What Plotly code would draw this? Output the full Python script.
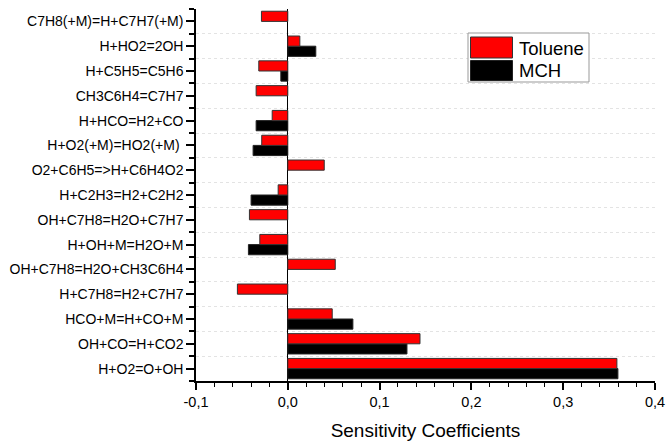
import plotly.graph_objects as go

# Reactions listed top to bottom as in the chart
reactions = [
    "C7H8(+M)=H+C7H7(+M)",
    "H+HO2=2OH",
    "H+C5H5=C5H6",
    "CH3C6H4=C7H7",
    "H+HCO=H2+CO",
    "H+O2(+M)=HO2(+M) ",
    "O2+C6H5=>H+C6H4O2",
    "H+C2H3=H2+C2H2",
    "OH+C7H8=H2O+C7H7",
    "H+OH+M=H2O+M",
    "OH+C7H8=H2O+CH3C6H4",
    "H+C7H8=H2+C7H7",
    "HCO+M=H+CO+M",
    "OH+CO=H+CO2",
    "H+O2=O+OH",
]
toluene = [-0.0287, 0.0131, -0.0316, -0.0345, -0.0170, -0.0284, 0.0397, -0.0105,
           -0.0418, -0.0305, 0.0517, -0.0549, 0.0484, 0.1440, 0.3585]
mch = [None, 0.0305, -0.0076, None, -0.0345, -0.0378, None, -0.0400,
       None, -0.0429, None, None, 0.0709, 0.1298, 0.3596]
x_ticks = [-0.1, 0.0, 0.1, 0.2, 0.3, 0.4]
x_ticktext = [f"{v:.1f}".replace(".", ",") for v in x_ticks]

n = len(reactions)
ypos = [n - 1 - i for i in range(n)]  # top item gets highest position

fig = go.Figure()
fig.add_trace(go.Bar(
    name="MCH", y=ypos, x=mch, orientation="h",
    marker=dict(color="#000000", line=dict(color="#222222", width=1)),
    showlegend=False,
))
fig.add_trace(go.Bar(
    name="Toluene", y=ypos, x=toluene, orientation="h",
    marker=dict(color="#ff0000", line=dict(color="#333333", width=1)),
    showlegend=False,
))

L, R, T, B = 196, 11, 9, 61
W, H = 666, 442
pw, ph = W - L - R, H - T - B


def px(x):
    return (x - L) / pw


def py(y):
    return (H - B - y) / ph


shapes = [
    dict(type="rect", xref="paper", yref="paper", x0=px(468), x1=px(589), y0=py(33), y1=py(82),
         line=dict(color="#999999", width=1), fillcolor="white", layer="above"),
    dict(type="rect", xref="paper", yref="paper", x0=px(470.5), x1=px(512.5), y0=py(37), y1=py(58),
         line=dict(color="#333333", width=1), fillcolor="#ff0000", layer="above"),
    dict(type="rect", xref="paper", yref="paper", x0=px(470.5), x1=px(512.5), y0=py(60.5), y1=py(80.5),
         line=dict(color="#222222", width=1), fillcolor="#000000", layer="above"),
]
annotations = [
    dict(text="Toluene", xref="paper", yref="paper", x=px(517), y=py(48), xanchor="left",
         yanchor="middle", showarrow=False, font=dict(size=18.5, color="black")),
    dict(text="MCH", xref="paper", yref="paper", x=px(517), y=py(71), xanchor="left",
         yanchor="middle", showarrow=False, font=dict(size=18.5, color="black")),
]

fig.update_layout(
    width=W, height=H,
    margin=dict(l=L, r=R, t=T, b=B),
    paper_bgcolor="white", plot_bgcolor="white",
    barmode="group", bargap=0.18, bargroupgap=0,
    font=dict(family="Liberation Sans, Arial, sans-serif", size=14, color="black"),
    shapes=shapes, annotations=annotations,
    xaxis=dict(
        range=[-0.1, 0.4], tickvals=x_ticks, ticktext=x_ticktext,
        showline=True, linecolor="black", linewidth=1.5,
        ticks="outside", ticklen=7, tickwidth=1.5, tickcolor="black",
        minor=dict(dtick=0.02, tick0=0, ticks="outside", ticklen=4, tickwidth=1.2,
                   tickcolor="black", showgrid=False),
        showgrid=False, automargin=False,
        zeroline=True, zerolinecolor="black", zerolinewidth=1.2,
        title=dict(text="Sensitivity Coefficients", font=dict(size=19), standoff=15),
        tickfont=dict(size=14.5),
    ),
    yaxis=dict(
        range=[-0.5, 14.5], tickvals=ypos, ticktext=reactions,
        showline=True, linecolor="black", linewidth=1.5,
        ticks="outside", ticklen=8, tickwidth=1.5, tickcolor="black",
        minor=dict(tickmode="linear", tick0=0.5, dtick=1, ticks="outside", ticklen=5,
                   tickwidth=1.5, tickcolor="black",
                   showgrid=True, gridcolor="#e3e3e3", griddash="dot", gridwidth=1),
        showgrid=False, zeroline=False, automargin=False,
        tickfont=dict(size=14),
    ),
)

fig.write_html("out.html")
